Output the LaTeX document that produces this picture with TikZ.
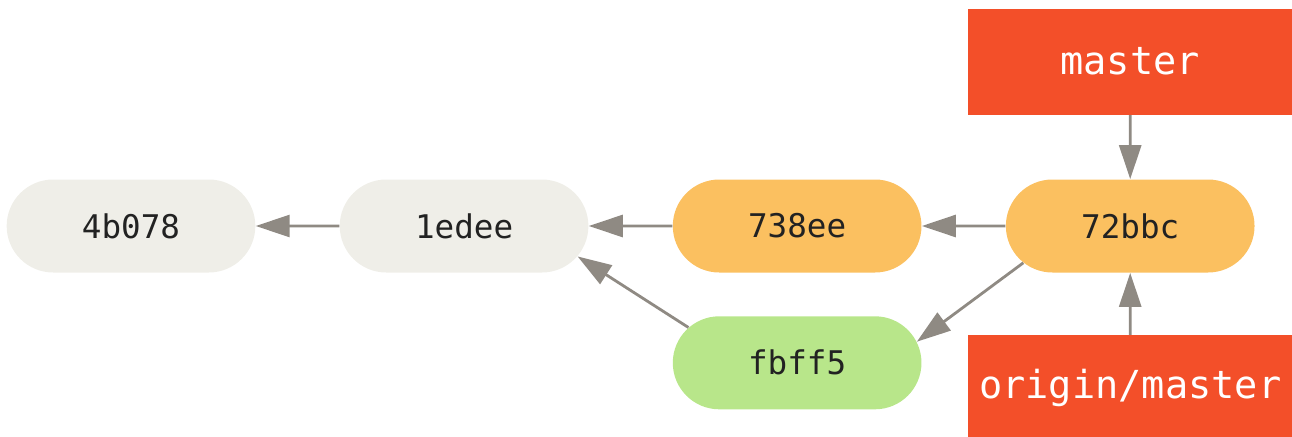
\documentclass[tikz,border=0pt]{standalone}
\usepackage{fontspec}
\setmonofont{DejaVu Sans Mono}
\usepackage{tikz}
\usetikzlibrary{shapes.misc, arrows.meta, positioning}
\definecolor{commit-old}{RGB}{239,238,232}
\definecolor{commit-orange}{RGB}{251,192,96}
\definecolor{commit-green}{RGB}{184,230,138}
\definecolor{commit-text}{RGB}{34,34,34}
\definecolor{git-red}{RGB}{243,79,41}
\definecolor{arrow-grey}{RGB}{143,138,131}

\begin{document}
\begin{tikzpicture}[
    node distance=21.5pt and 41.8pt,
    commit/.style={rounded rectangle, minimum width=131pt, minimum height=46.5pt, font=\fontsize{16.3}{18}\selectfont\ttfamily, text=commit-text},
    oldc/.style={commit, fill=commit-old},
    newc/.style={commit, fill=commit-orange},
    localc/.style={commit, fill=commit-green},
    branch/.style={rectangle, fill=git-red, minimum width=162.5pt, minimum height=53pt, font=\fontsize{19.3}{22}\selectfont\ttfamily, text=white},
    arrow/.style={-{Triangle[length=17pt,width=11pt]}, line width=1.4pt, draw=arrow-grey}
]

\useasboundingbox (0,0) rectangle (646pt,218pt);
\clip (0,0) rectangle (646pt,218pt);

% Commits
\node[oldc] (c4b078) at (65.5pt,105pt) {4b078};
\node[oldc, right=of c4b078] (c1edee) {1edee};
\node[newc, right=of c1edee] (c738ee) {738ee};
\node[newc, right=of c738ee] (c72bbc) {72bbc};
\node[localc, below=of c738ee] (cfbff5) {fbff5};

% Branches
\node[branch, above=32pt of c72bbc] (master) {master};
\node[branch, below=31pt of c72bbc] (origin) {origin/master};

% Setas
\draw[arrow] (c1edee) -- (c4b078);
\draw[arrow] (c738ee) -- (c1edee);
\draw[arrow] (c72bbc) -- (c738ee);
\draw[arrow] (cfbff5.162.8) -- (c1edee.-15.6);
\draw[arrow] (c72bbc.199) -- (cfbff5.10.5);
\draw[arrow] (master) -- (c72bbc);
\draw[arrow] (origin) -- (c72bbc);

\end{tikzpicture}
\end{document}
